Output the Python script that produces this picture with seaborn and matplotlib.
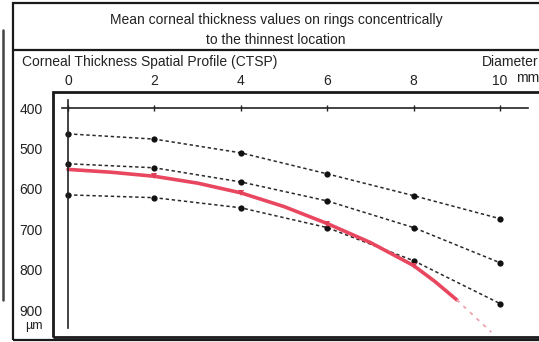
import numpy as np
import pandas as pd
import seaborn as sns
import matplotlib.pyplot as plt
from matplotlib.lines import Line2D
from matplotlib.patches import Rectangle

# ring diameters (mm) and mean thickness values (um)
diameter = [0, 2, 4, 6, 8, 10]
upper_band = [464, 477, 511, 563, 617, 674]
middle_band = [538, 548, 583, 630, 696, 783]
lower_band = [615, 622, 647, 696, 778, 884]

# patient CTSP curve (red)
patient_x = [0, 1, 2, 3, 4, 5, 6, 7, 8, 8.5, 9]
patient_y = [552, 559, 569, 586, 610, 644, 686, 733, 790, 830, 875]
patient_marks = [2, 4, 6, 8]
extension_x = [9, 9.8]
extension_y = [875, 955]

y_ticks = [400, 500, 600, 700, 800, 900]
x_ticks = [0, 2, 4, 6, 8, 10]

title_1 = "Mean corneal thickness values on rings concentrically"
title_2 = "to the thinnest location"

sns.set_theme(style="white")
plt.rcParams['font.family'] = ['Liberation Sans', 'DejaVu Sans']
FS = 10
INK = "#222222"

W, H = 539, 342
fig = plt.figure(figsize=(W / 100, H / 100), dpi=100)


def fx(px):
    return px / W


def fy(py):
    return 1 - py / H


# inner plot box in pixels
left, top, right, bottom = 53, 92, 545, 337
ax = fig.add_axes([fx(left), fy(bottom), fx(right - left), (bottom - top) / H])

# map data to the pixel scale of the picture
x0_px, px_per_mm = 68, 43.2
y400_px, px_per_um = 108, 0.404
ax.set_xlim((left - x0_px) / px_per_mm, (right - x0_px) / px_per_mm)
ax.set_ylim(400 + (bottom - y400_px) / px_per_um, 400 + (top - y400_px) / px_per_um)

df = pd.DataFrame({"d": diameter, "up": upper_band, "mid": middle_band, "low": lower_band})
for col in ["up", "mid", "low"]:
    sns.lineplot(data=df, x="d", y=col, ax=ax, color="#2a2a2a", lw=1.1,
                 linestyle=(0, (2.2, 1.8)), marker="o", markersize=4.5,
                 markeredgewidth=0, markerfacecolor="#111111")

sns.lineplot(x=patient_x, y=patient_y, ax=ax, color="#e8475f", lw=2.6, sort=False)
mark_y = [patient_y[patient_x.index(v)] for v in patient_marks]
sns.lineplot(x=patient_marks, y=mark_y, ax=ax, color="#e0405a",
             lw=0, marker="v", markersize=5, markeredgewidth=0)
sns.lineplot(x=extension_x, y=extension_y, ax=ax, color="#eea3b0", lw=1.3,
             linestyle=(0, (2, 3)))

# floating axis lines through the 0 mm / 400 um position
for s in ["right", "bottom"]:
    ax.spines[s].set_visible(False)
ax.spines["left"].set_position(("data", 0))
ax.spines["top"].set_position(("data", 400))
ax.spines["left"].set_bounds(380, 945)
ax.spines["top"].set_bounds(-0.14, 10.65)
for s in ["left", "top"]:
    ax.spines[s].set_color(INK)
    ax.spines[s].set_linewidth(1.2)

ax.xaxis.tick_top()
ax.set_xticks(x_ticks)
ax.set_xticklabels([str(t) for t in x_ticks])
ax.set_yticks(y_ticks)
ax.set_yticklabels([str(t) for t in y_ticks])
ax.tick_params(axis="x", direction="inout", length=5, width=1, pad=12,
               labelsize=FS, colors=INK)
ax.tick_params(axis="y", direction="out", length=4, width=1, pad=14,
               labelsize=FS, colors=INK)
ax.set_xlabel("")
ax.set_ylabel("")
ax.patch.set_alpha(0)

# frames
fig.add_artist(Rectangle((fx(left), fy(bottom)), fx(right - left), (bottom - top) / H,
                         transform=fig.transFigure, fill=False, lw=2, ec="#1a1a1a"))
fig.add_artist(Rectangle((fx(13), fy(340)), fx(560 - 13), (340 - 3) / H,
                         transform=fig.transFigure, fill=False, lw=1.6, ec="#1a1a1a"))
fig.add_artist(Line2D([fx(13), fx(539)], [fy(50), fy(50)], transform=fig.transFigure,
                      lw=1.6, color="#1a1a1a"))
fig.add_artist(Line2D([fx(3), fx(3)], [fy(30), fy(300)], transform=fig.transFigure,
                      lw=1.8, color="#444444"))

fig.text(fx(276), fy(20), title_1, ha="center", va="center", fontsize=FS, color=INK)
fig.text(fx(276), fy(40), title_2, ha="center", va="center", fontsize=FS, color=INK)
fig.text(fx(22), fy(62), "Corneal Thickness Spatial Profile (CTSP)", ha="left",
         va="center", fontsize=FS, color=INK)
fig.text(fx(482), fy(62), "Diameter", ha="left", va="center", fontsize=FS, color=INK)
fig.text(fx(516), fy(78), "mm", ha="left", va="center", fontsize=FS, color=INK)
fig.text(fx(43), fy(326), "µm", ha="right", va="center", fontsize=9, color=INK)

fig.savefig("out.png", dpi=100)
